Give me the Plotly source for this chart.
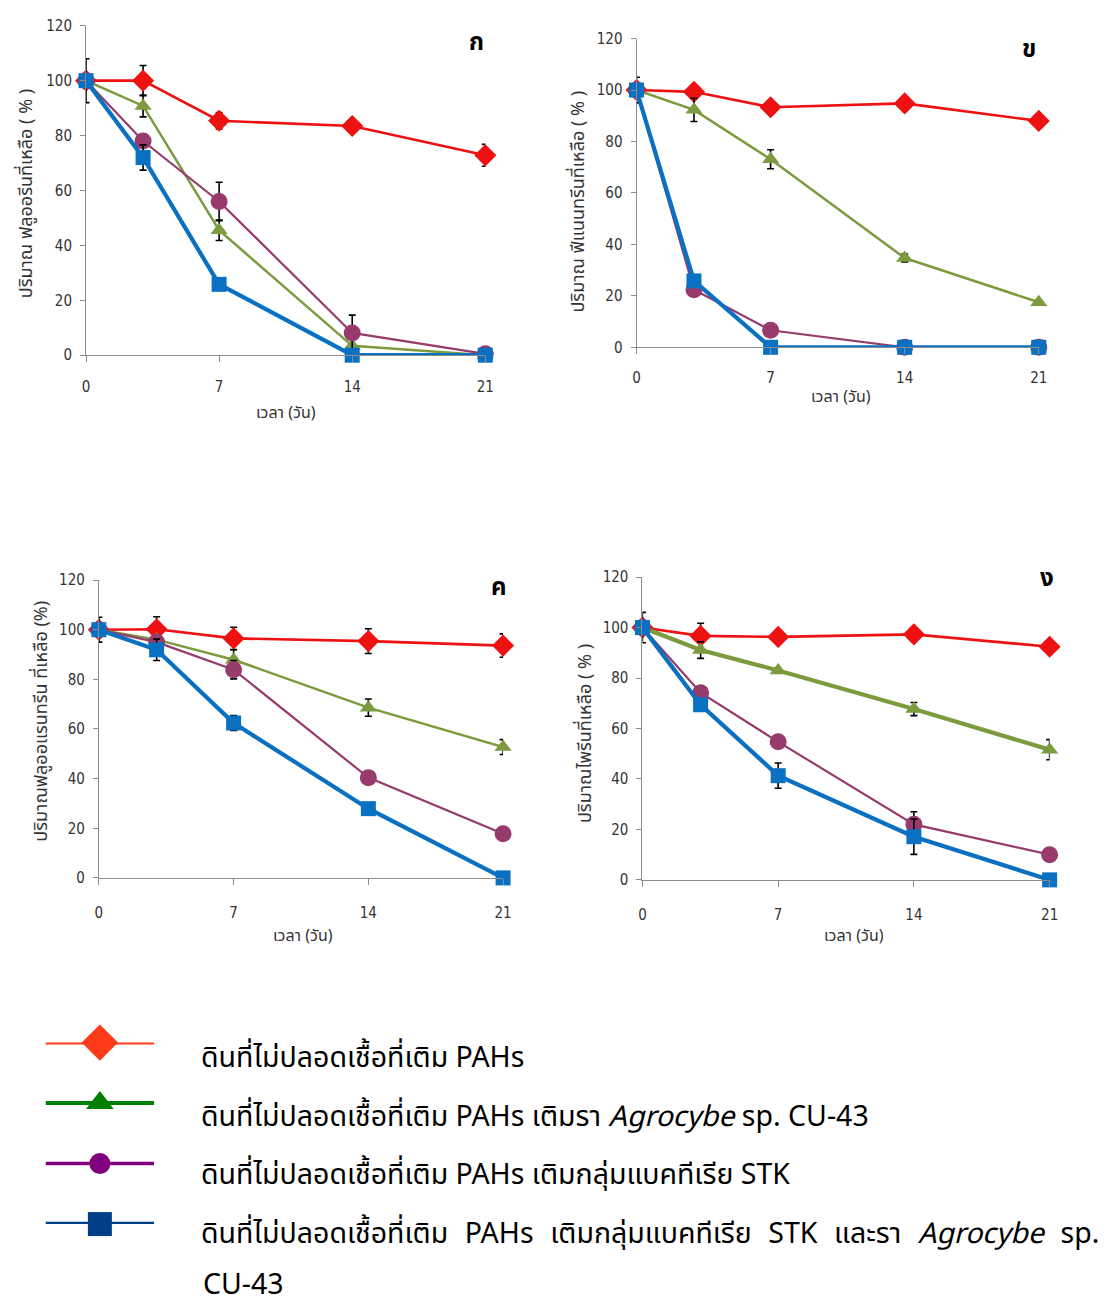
import plotly.graph_objects as go

# ---------------- data ----------------
days = [0, 3, 7, 14, 21]
x_tick_vals = [0, 7, 14, 21]
y_tick_vals = [0, 20, 40, 60, 80, 100, 120]

GAP = "\u00a0\u00a0\u200a"
treatments = [
    "ดินที่ไม่ปลอดเชื้อที่เติม PAHs",
    "ดินที่ไม่ปลอดเชื้อที่เติม PAHs เติมรา <i>Agrocybe</i> sp. CU-43",
    "ดินที่ไม่ปลอดเชื้อที่เติม PAHs เติมกลุ่มแบคทีเรีย STK",
    GAP.join(["ดินที่ไม่ปลอดเชื้อที่เติม", "PAHs", "เติมกลุ่มแบคทีเรีย", "STK",
              "และรา", "<i>Agrocybe</i>", "sp."]),
]
last_line_tail = "CU-43"

panel_letters = ["ก", "ข", "ค", "ง"]
y_titles = [
    "ปริมาณ ฟลูออรีนที่เหลือ ( % )",
    "ปริมาณ ฟีแนนทรีนที่เหลือ ( % )",
    "ปริมาณฟลูออแรนทรีน ที่เหลือ (%)",
    "ปริมาณไพรีนที่เหลือ ( % )",
]
x_title = "เวลา (วัน)"

# ก fluorene
flu_ctrl = [100, 100, 85.4, 83.5, 72.8]
flu_ctrl_err = [0, 5.5, 3, 0, 4]
flu_fungus = [100, 90.8, 45.5, 3.4, 0]
flu_fungus_err = [8, 4, 3.7, 0, 0]
flu_bact = [100, 78, 56, 8.1, 0.5]
flu_bact_err = [0, 0, 7, 6.5, 0]
flu_mix = [100, 72, 25.8, 0, 0]
flu_mix_err = [0, 4.6, 0, 0, 0]

# ข phenanthrene
phe_ctrl = [100, 99.3, 93.3, 94.8, 88]
phe_ctrl_err = [0, 0, 0, 0, 0]
phe_fungus = [100, 92.3, 73.1, 34.7, 17.5]
phe_fungus_err = [5, 4.5, 3.7, 1.5, 0]
phe_bact = [100, 22.4, 6.6, 0, 0]
phe_bact_err = [0, 0, 0, 0, 0]
phe_mix = [100, 25.8, 0, 0, 0]
phe_mix_err = [0, 0, 0, 0, 0]

# ค fluoranthene
fla_ctrl = [100, 100.2, 96.5, 95.4, 93.6]
fla_ctrl_err = [0, 5, 4.5, 5, 4.7]
fla_fungus = [100, 96, 87.9, 68.6, 52.7]
fla_fungus_err = [5, 0, 4, 3.5, 3]
fla_bact = [100, 95, 83.9, 40.4, 17.8]
fla_bact_err = [0, 0, 3.7, 0, 0]
fla_mix = [100, 91.9, 62.4, 27.9, 0]
fla_mix_err = [0, 4.3, 3, 0, 0]

# ง pyrene
pyr_ctrl = [100, 96.7, 96.3, 97.3, 92.4]
pyr_ctrl_err = [0, 5, 2.3, 2.6, 0]
pyr_fungus = [100, 91.1, 83, 67.7, 51.6]
pyr_fungus_err = [6, 3.3, 0, 2.6, 4]
pyr_bact = [100, 74.2, 54.7, 22, 10]
pyr_bact_err = [0, 0, 0, 5, 0]
pyr_mix = [100, 69.4, 41.3, 17.1, 0]
pyr_mix_err = [0, 0, 5, 7, 0]

panels = [
    [(flu_ctrl, flu_ctrl_err), (flu_fungus, flu_fungus_err), (flu_bact, flu_bact_err), (flu_mix, flu_mix_err)],
    [(phe_ctrl, phe_ctrl_err), (phe_fungus, phe_fungus_err), (phe_bact, phe_bact_err), (phe_mix, phe_mix_err)],
    [(fla_ctrl, fla_ctrl_err), (fla_fungus, fla_fungus_err), (fla_bact, fla_bact_err), (fla_mix, fla_mix_err)],
    [(pyr_ctrl, pyr_ctrl_err), (pyr_fungus, pyr_fungus_err), (pyr_bact, pyr_bact_err), (pyr_mix, pyr_mix_err)],
]

# ---------------- styling ----------------
W, H = 1111, 1311
THAI_FONT = "Noto Sans Thai, Loma, Garuda, Tahoma, sans-serif"
TICK_FONT = dict(family="Liberation Sans Narrow, Arial Narrow, DejaVu Sans Condensed, sans-serif",
                 size=15, color="#333333")
AXIS_GREY = "#8c8c8c"

plot_styles = [
    dict(color="#EE1111", symbol="diamond", size=17, width=2.6),
    dict(color="#7C9A3E", symbol="triangle-up", size=15, width=2.5),
    dict(color="#973B6C", symbol="circle", size=17, width=2.2),
    dict(color="#0A70C2", symbol="square", size=15, width=4.2),
]
# the pyrene panel draws the fungus series with a heavier line
line_width_override = {(3, 1): 4.2}

legend_styles = [
    dict(color="#FF3A1A", symbol="diamond", size=28, width=4),
    dict(color="#008000", symbol="triangle-up", size=24, width=4),
    dict(color="#800080", symbol="circle", size=21, width=3.5),
    dict(color="#003F87", symbol="square", size=24, width=4.5),
]


def px_x(px):
    return px / W


def px_y(px):
    return 1 - px / H


# plot areas in pixels: (left, right, top, bottom)
areas = [
    (83, 487, 17, 351),
    (640, 1047, 30, 343),
    (96, 505, 579, 881),
    (646, 1058, 576, 883),
]
letter_pos = [(478, 34), (1037, 42), (501, 587), (1055, 578)]
ytitle_pos = [(23, 187), (581, 195), (38, 722), (589, 735)]
xtitle_pos = [(285, 410), (847, 393), (303, 940), (860, 940)]
x_standoffs = [12, 11, 15, 15]

fig = go.Figure()
annotations = []
layout_axes = {}

for p, series in enumerate(panels):
    xa = "x" if p == 0 else f"x{p + 1}"
    ya = "y" if p == 0 else f"y{p + 1}"
    for s, (vals, err) in enumerate(series):
        st = plot_styles[s]
        err_arr = [e if e > 0 else None for e in err]
        fig.add_trace(go.Scatter(
            x=days, y=vals, xaxis=xa, yaxis=ya,
            mode="lines+markers", showlegend=False, cliponaxis=False,
            line=dict(color=st["color"], width=line_width_override.get((p, s), st["width"])),
            marker=dict(symbol=st["symbol"], size=st["size"], color=st["color"]),
            error_y=dict(type="data", array=err_arr, visible=True,
                         color="black", thickness=1.6, width=3.5),
            name=treatments[s],
        ))
    left, right, top, bottom = areas[p]
    layout_axes["xaxis" if p == 0 else f"xaxis{p + 1}"] = dict(
        domain=[px_x(left), px_x(right)], range=[0, 21], anchor=ya,
        tickvals=x_tick_vals, ticks="outside", ticklen=6, tickcolor=AXIS_GREY,
        showline=True, linecolor=AXIS_GREY, linewidth=1,
        showgrid=False, zeroline=False, tickfont=TICK_FONT,
        ticklabelstandoff=x_standoffs[p],
    )
    layout_axes["yaxis" if p == 0 else f"yaxis{p + 1}"] = dict(
        domain=[px_y(bottom), px_y(top)], range=[0, 120], anchor=xa,
        tickvals=y_tick_vals, ticks="outside", ticklen=5, tickcolor=AXIS_GREY,
        showline=True, linecolor=AXIS_GREY, linewidth=1,
        showgrid=False, zeroline=False, tickfont=TICK_FONT,
        ticklabelstandoff=5,
    )
    lx, ly = letter_pos[p]
    annotations.append(dict(
        x=px_x(lx), y=px_y(ly), xref="paper", yref="paper", showarrow=False,
        xanchor="center", yanchor="middle",
        text=f"<b>{panel_letters[p]}</b>", font=dict(family=THAI_FONT, size=24, color="black"),
    ))
    tx, ty = ytitle_pos[p]
    annotations.append(dict(
        x=px_x(tx), y=px_y(ty), xref="paper", yref="paper", showarrow=False,
        xanchor="center", yanchor="middle",
        text=y_titles[p], textangle=-90,
        font=dict(family=THAI_FONT, size=18, color="#333333"),
    ))
    tx, ty = xtitle_pos[p]
    annotations.append(dict(
        x=px_x(tx), y=px_y(ty), xref="paper", yref="paper", showarrow=False,
        xanchor="center", yanchor="middle",
        text=x_title, font=dict(family=THAI_FONT, size=16, color="#333333"),
    ))

# ---------------- key below the panels ----------------
key_x = [0, 0.5, 1]
for s, st in enumerate(legend_styles):
    fig.add_trace(go.Scatter(
        x=key_x, y=[s] * len(key_x), xaxis="x5", yaxis="y5",
        mode="lines", showlegend=False, cliponaxis=False, hoverinfo="skip",
        line=dict(color=st["color"], width=st["width"]),
    ))
    fig.add_trace(go.Scatter(
        x=[key_x[1]], y=[s], xaxis="x5", yaxis="y5",
        mode="markers", showlegend=False, cliponaxis=False, hoverinfo="skip",
        marker=dict(symbol=st["symbol"], size=st["size"], color=st["color"]),
    ))

layout_axes["xaxis5"] = dict(domain=[px_x(42), px_x(152)], range=[0, 1], anchor="y5", visible=False)
layout_axes["yaxis5"] = dict(domain=[px_y(1232), px_y(1048)], range=[3, 0], anchor="x5", visible=False)

key_text_y = [1064, 1124, 1183, 1243]
for s, name in enumerate(treatments):
    annotations.append(dict(
        x=px_x(197), y=px_y(key_text_y[s]), xref="paper", yref="paper",
        xanchor="left", yanchor="middle", showarrow=False, text=name,
        font=dict(family=THAI_FONT, size=28.5, color="black"),
    ))
annotations.append(dict(
    x=px_x(199), y=px_y(1294), xref="paper", yref="paper",
    xanchor="left", yanchor="middle", showarrow=False, text=last_line_tail,
    font=dict(family=THAI_FONT, size=28.5, color="black"),
))

fig.update_layout(
    width=W, height=H,
    margin=dict(l=0, r=0, t=0, b=0),
    paper_bgcolor="white", plot_bgcolor="white",
    showlegend=False,
    annotations=annotations,
    **layout_axes,
)

fig.write_html("out.html")
